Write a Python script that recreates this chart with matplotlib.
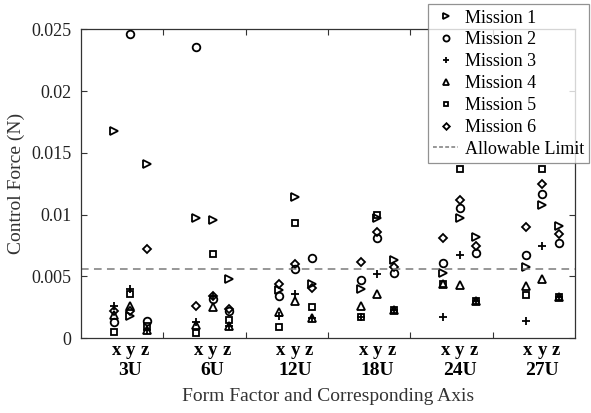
import matplotlib
matplotlib.use("Agg")
import matplotlib.pyplot as plt
from matplotlib.lines import Line2D
import numpy as np

plt.rcParams['font.family'] = ['Liberation Serif', 'DejaVu Serif']

form_factors = ["3U", "6U", "12U", "18U", "24U", "27U"]
axes_names = ["x", "y", "z"]
mission_labels = ["Mission 1", "Mission 2", "Mission 3", "Mission 4", "Mission 5", "Mission 6"]

# values ordered: for each form factor -> x, y, z
mission1 = [0.0168, 0.0018, 0.0141, 0.0097, 0.0096, 0.0048, 0.0039, 0.0114, 0.0044,
            0.0040, 0.0097, 0.0063, 0.0053, 0.0097, 0.0082, 0.0058, 0.0108, 0.0091]
mission2 = [0.0013, 0.0246, 0.0014, 0.0236, 0.0032, 0.0022, 0.0034, 0.0056, 0.0065,
            0.0047, 0.0081, 0.0053, 0.0061, 0.0105, 0.0069, 0.0067, 0.0117, 0.0077]
mission3 = [0.0026, 0.0040, 0.0007, 0.0013, 0.0034, 0.0010, 0.0018, 0.0036, 0.0016,
            0.0017, 0.0052, 0.0023, 0.0017, 0.0067, 0.0030, 0.0014, 0.0075, 0.0033]
mission4 = [0.0019, 0.0026, 0.0007, 0.0011, 0.0025, 0.0010, 0.0021, 0.0030, 0.0016,
            0.0026, 0.0036, 0.0023, 0.0044, 0.0043, 0.0030, 0.0042, 0.0048, 0.0033]
mission5 = [0.0005, 0.0036, 0.0010, 0.0004, 0.0068, 0.0015, 0.0009, 0.0093, 0.0025,
            0.0017, 0.0100, 0.0023, 0.0044, 0.0137, 0.0030, 0.0035, 0.0137, 0.0033]
mission6 = [0.0022, 0.0022, 0.0072, 0.0026, 0.0034, 0.0024, 0.0044, 0.0060, 0.0041,
            0.0062, 0.0086, 0.0058, 0.0081, 0.0112, 0.0075, 0.0090, 0.0125, 0.0084]
allowable_limit = 0.0056

yticks = [0, 0.005, 0.01, 0.015, 0.02, 0.025]
ytick_labels = ["0", "0.005", "0.01", "0.015", "0.02", "0.025"]

missions = [mission1, mission2, mission3, mission4, mission5, mission6]
markers = ['>', 'o', '+', '^', 's', 'D']
msizes = [6, 5.5, 6, 6, 4.2, 4.2]

fig = plt.figure(figsize=(5.91, 4.13), dpi=100)
ax = fig.add_axes([0.137, 0.181, 0.836, 0.748])

offsets = [0.4, 0.6, 0.8]
xpos = np.array([g + o for g in range(len(form_factors)) for o in offsets])

handles = []
for vals, m, ms, lab in zip(missions, markers, msizes, mission_labels):
    ax.plot(xpos, vals, linestyle='none', marker=m, markersize=ms,
            markerfacecolor='none', markeredgecolor='black', markeredgewidth=1.3)
    handles.append(Line2D([], [], linestyle='none', marker=m, markersize=ms * 0.8,
                          markerfacecolor='none', markeredgecolor='black',
                          markeredgewidth=1.3, label=lab))

ax.axhline(allowable_limit, color='#7a7a7a', linestyle=(0, (5, 3.5)), linewidth=1.1)
handles.append(Line2D([], [], color='#7a7a7a', linestyle=(0, (2.5, 1.5)), linewidth=1.1,
                      label="Allowable Limit"))

ax.set_xlim(0, len(form_factors))
ax.set_ylim(0, 0.025)
ax.set_xticks(range(1, len(form_factors)))
ax.set_xticklabels([])
ax.set_yticks(yticks)
ax.set_yticklabels(ytick_labels, fontsize=13)
ax.tick_params(direction='in', top=True, right=True, length=4, width=0.8, colors='#333333',
               labelcolor='#222222', pad=7)
for s in ax.spines.values():
    s.set_color('#333333')
    s.set_linewidth(0.9)

trans = ax.get_xaxis_transform()
label_offsets = [0.43, 0.6, 0.77]
for g, ff in enumerate(form_factors):
    for o, a in zip(label_offsets, axes_names):
        ax.text(g + o, -0.04, a, transform=trans, ha='center', va='center',
                fontsize=13.5, fontweight='bold')
    ax.text(g + 0.6, -0.105, ff, transform=trans, ha='center', va='center',
            fontsize=14, fontweight='bold')

ax.set_ylabel("Control Force (N)", fontsize=14, color='#333333', labelpad=4)
fig.text(0.555, 0.04, "Form Factor and Corresponding Axis", ha='center', va='center',
         fontsize=14, color='#333333')

leg = fig.legend(handles=handles, loc='upper right', bbox_to_anchor=(0.997, 0.99),
                 fontsize=13, frameon=True, fancybox=False, edgecolor='#777777',
                 borderpad=0.3, labelspacing=0.27, handlelength=1.4, handletextpad=0.35,
                 borderaxespad=0)
leg.get_frame().set_linewidth(0.9)

fig.savefig("out.png", dpi=100)
